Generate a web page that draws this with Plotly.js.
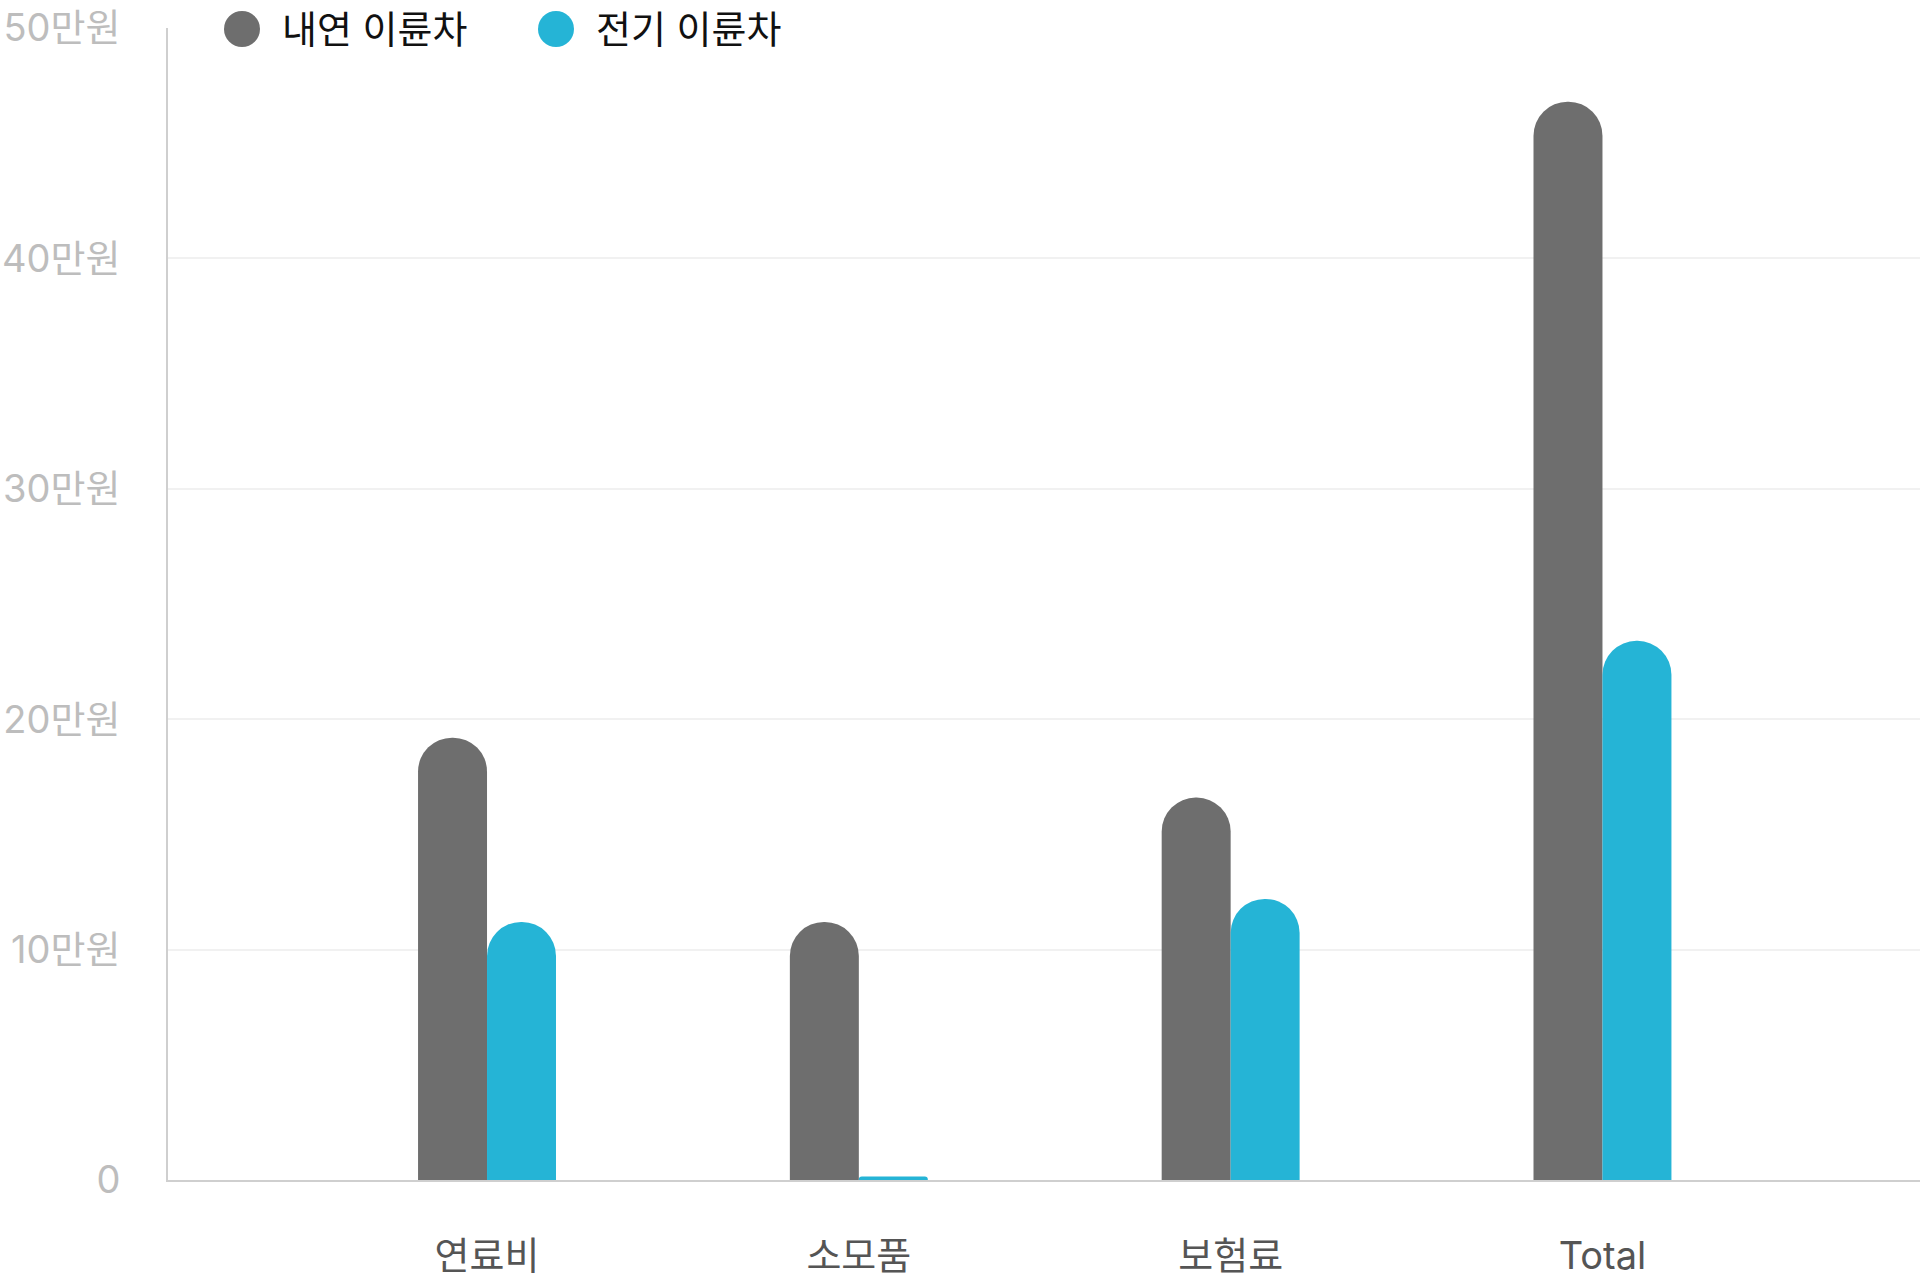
<!DOCTYPE html>
<html>
<head>
<meta charset="utf-8">
<script src="https://cdn.plot.ly/plotly-3.0.1.min.js"></script>
<style>
  html, body { margin: 0; padding: 0; background: #ffffff; }
  #chart { width: 1920px; height: 1286px; }
</style>
</head>
<body>
<div id="chart"></div>
<script>
// ---- data (values in 만원) ----
const categories = ['연료비', '소모품', '보험료', 'Total'];
const seriesNames = ['내연 이륜차', '전기 이륜차'];
const iceValues = [19.2, 11.2, 16.6, 46.8];
const evValues = [11.2, 0.15, 12.2, 23.4];
const yTickValues = [0, 10, 20, 30, 40, 50];
const yTickLabels = ['0', '10만원', '20만원', '30만원', '40만원', '50만원'];

const colors = ['#6e6e6e', '#25b4d6'];
const FONT = 'Inter, "Noto Sans CJK KR", "Noto Sans", sans-serif';

const traces = [iceValues, evValues].map((vals, i) => ({
  type: 'bar',
  name: seriesNames[i],
  x: categories,
  y: vals,
  marker: { color: colors[i], cornerradius: '50%', line: { width: 0 } },
  showlegend: false,
  hoverinfo: 'skip'
}));

// custom legend (circle symbols + text)
const W = 1920, H = 1286;
const M = { l: 168, r: 0, t: 28, b: 106 };
const pw = W - M.l - M.r, ph = H - M.t - M.b;
const px = v => (v - M.l) / pw;
const py = v => (H - M.b - v) / ph;
const legendMarkerX = [242, 556];
const legendTextX = [280, 594];
const legendY = 29;

const shapes = [], annotations = [];
seriesNames.forEach((name, i) => {
  shapes.push({
    type: 'circle', xref: 'paper', yref: 'paper',
    xsizemode: 'pixel', ysizemode: 'pixel',
    xanchor: px(legendMarkerX[i]), yanchor: py(legendY),
    x0: -18, x1: 18, y0: -18, y1: 18,
    fillcolor: colors[i], line: { width: 0 }
  });
  annotations.push({
    xref: 'paper', yref: 'paper',
    x: px(legendTextX[i]), y: py(legendY),
    xanchor: 'left', yanchor: 'middle',
    text: name, showarrow: false,
    font: { family: FONT, size: 38, color: '#111111' }
  });
});

const layout = {
  width: W, height: H,
  margin: M,
  paper_bgcolor: '#ffffff',
  plot_bgcolor: '#ffffff',
  barmode: 'group',
  bargap: 0.629,
  bargroupgap: 0,
  showlegend: false,
  font: { family: FONT },
  xaxis: {
    type: 'category',
    range: [-0.858, 3.854],
    showgrid: false,
    zeroline: false,
    showline: true,
    linecolor: '#cfcfcf',
    linewidth: 2,
    ticks: '',
    ticklabelstandoff: 41,
    tickfont: { family: FONT, size: 38, color: '#555555' }
  },
  yaxis: {
    range: [0, 50],
    tickmode: 'array',
    tickvals: yTickValues,
    ticktext: yTickLabels,
    showgrid: true,
    gridcolor: '#f1f1f1',
    gridwidth: 2,
    zeroline: false,
    showline: true,
    linecolor: '#cfcfcf',
    linewidth: 2,
    ticks: '',
    ticklabelstandoff: 38,
    tickfont: { family: FONT, size: 38, color: '#bdbdbd' }
  },
  shapes: shapes,
  annotations: annotations
};

Plotly.newPlot('chart', traces, layout, { displayModeBar: false, staticPlot: true });
</script>
</body>
</html>
